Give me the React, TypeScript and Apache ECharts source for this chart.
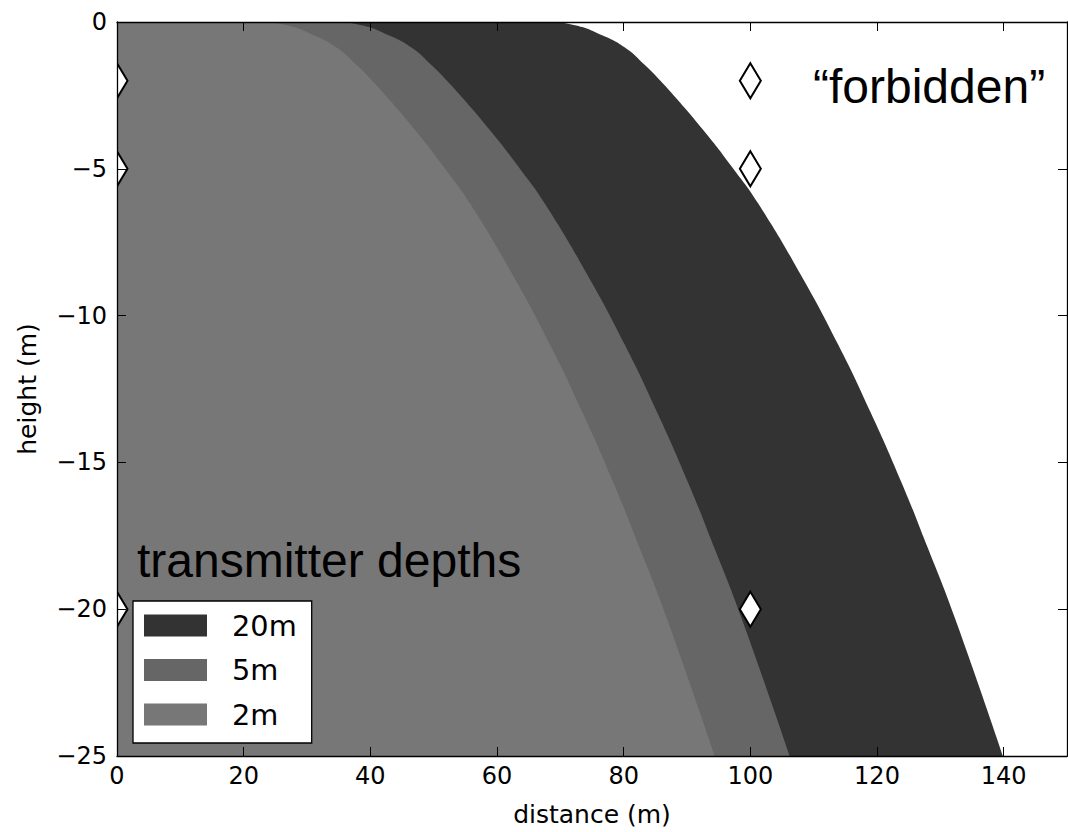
import React, { useEffect, useRef } from "react";
import * as echarts from "echarts";

// Outer edge of the reachable region for each transmitter depth: [distance (m), height (m)]
const edge20m: [number, number][] = [
  [0, 0], [67.8, 0], [72.1, -0.1], [76.6, -0.45], [80.4, -0.9], [83.3, -1.46],
  [85.8, -2.0], [87.5, -2.4], [92.5, -3.66], [97.4, -5.02], [101.3, -6.2],
  [108.2, -8.7], [113.9, -11], [119.0, -13.3], [123.9, -15.7], [128.0, -17.9],
  [132.3, -20.3], [139.9, -25],
];
const edge5m: [number, number][] = [
  [0, 0], [34.1, 0], [38.4, -0.1], [42.9, -0.45], [46.7, -0.9], [49.6, -1.46],
  [52.1, -2.0], [53.8, -2.4], [58.8, -3.66], [63.7, -5.02], [67.6, -6.2],
  [74.5, -8.7], [80.2, -11], [85.3, -13.3], [90.2, -15.7], [94.3, -17.9],
  [98.6, -20.3], [106.2, -25],
];
const edge2m: [number, number][] = [
  [0, 0], [22.3, 0], [26.6, -0.1], [31.1, -0.45], [34.9, -0.9], [37.8, -1.46],
  [40.3, -2.0], [42.0, -2.4], [47.0, -3.66], [51.9, -5.02], [55.8, -6.2],
  [62.7, -8.7], [68.4, -11], [73.5, -13.3], [78.4, -15.7], [82.5, -17.9],
  [86.8, -20.3], [94.4, -25],
];

const depthNames = ["20m", "5m", "2m"];
const depthColors = ["#333333", "#666666", "#777777"];
const depthEdges = [edge20m, edge5m, edge2m];

// Receiver positions (diamonds)
const markerDistances = [0, 0, 0, 100, 100, 100];
const markerHeights = [-2, -5, -20, -2, -5, -20];

const xTicks = { min: 0, max: 150, interval: 20 };
const yTicks = { min: -25, max: 0, interval: 5 };

const FONT = "DejaVu Sans";
const ANNOT_FONT = "Liberation Sans";

const fmtMinus = (v: number) => (v < 0 ? "\u2212" + Math.abs(v) : String(v));

function spine(pos: string, withLabels: boolean, isX: boolean, name?: string) {
  return {
    type: "value",
    position: pos,
    ...(isX ? xTicks : yTicks),
    name: name,
    nameLocation: "middle",
    nameGap: isX ? 46 : 77,
    nameTextStyle: { fontFamily: FONT, fontSize: 25, color: "#000" },
    axisLine: { show: true, onZero: false, lineStyle: { color: "#000", width: 1.3 } },
    axisTick: { show: true, inside: true, length: 9, lineStyle: { color: "#000", width: 1 } },
    axisLabel: {
      show: withLabels,
      fontFamily: FONT,
      fontSize: 24,
      color: "#000",
      margin: isX ? 8 : 10,
      showMaxLabel: isX ? false : true,
      formatter: fmtMinus,
    },
    splitLine: { show: false },
    z: 10,
  };
}

export default function App() {
  const ref = useRef<HTMLDivElement>(null);

  useEffect(() => {
    if (!ref.current) return;
    const chart = echarts.init(ref.current, null, { renderer: "svg" });

    const areaSeries = depthNames.map((name, i) => ({
      name,
      type: "line",
      data: depthEdges[i],
      showSymbol: false,
      smooth: 0.5,
      color: depthColors[i],
      lineStyle: { width: 0, color: depthColors[i] },
      itemStyle: { color: depthColors[i] },
      areaStyle: { color: depthColors[i], opacity: 1, origin: "start" },
      z: 2,
      silent: true,
    }));

    const markerData = markerDistances.map((d, i) => [d, markerHeights[i]]);

    const option = {
      animation: false,
      backgroundColor: "#ffffff",
      grid: { left: 117, top: 22, width: 950, height: 737 },
      xAxis: [
        spine("bottom", true, true, "distance (m)"),
        spine("top", false, true),
      ],
      yAxis: [
        spine("left", true, false, "height (m)"),
        spine("right", false, false),
      ],
      legend: {
        data: depthNames,
        orient: "vertical",
        left: 133,
        top: 601,
        z: 10,
        padding: [10, 15, 14, 11],
        itemWidth: 63,
        itemHeight: 22,
        itemGap: 15.5,
        icon: "rect",
        backgroundColor: "#ffffff",
        borderColor: "#000",
        borderWidth: 1.3,
        borderRadius: 0,
        selectedMode: false,
        itemStyle: { borderWidth: 0 },
        textStyle: {
          fontFamily: FONT,
          fontSize: 28.8,
          color: "#000",
          padding: [0, 0, 0, 20],
        },
      },
      series: [
        ...areaSeries,
        {
          name: "receivers",
          type: "custom",
          coordinateSystem: "cartesian2d",
          clip: true,
          z: 6,
          silent: true,
          data: markerData,
          renderItem: (_params: any, api: any) => {
            const c = api.coord([api.value(0), api.value(1)]);
            return {
              type: "polygon",
              shape: {
                points: [
                  [c[0], c[1] - 17.5],
                  [c[0] + 10.5, c[1]],
                  [c[0], c[1] + 17.5],
                  [c[0] - 10.5, c[1]],
                ],
              },
              style: { fill: "#ffffff", stroke: "#000000", lineWidth: 2 },
            };
          },
        },
      ],
      graphic: [
        {
          type: "text",
          x: 813,
          y: 86,
          z: 20,
          style: {
            text: "\u201cforbidden\u201d",
            fontFamily: ANNOT_FONT,
            fontSize: 48,
            fill: "#000",
            verticalAlign: "middle",
          },
        },
        {
          type: "text",
          x: 137,
          y: 560,
          z: 20,
          style: {
            text: "transmitter depths",
            fontFamily: ANNOT_FONT,
            fontSize: 48,
            fill: "#000",
            verticalAlign: "middle",
          },
        },
      ],
    };

    chart.setOption(option as any);
    return () => chart.dispose();
  }, []);

  return (
    <div
      ref={ref}
      style={{ position: "absolute", left: 0, top: 0, width: 1068, height: 832 }}
    />
  );
}
